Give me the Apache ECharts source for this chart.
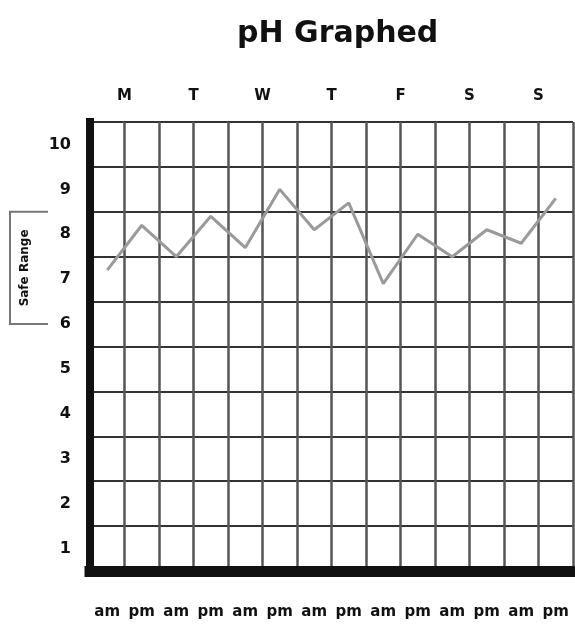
<!DOCTYPE html>
<html><head><meta charset="utf-8">
<script src="https://cdn.jsdelivr.net/npm/echarts@6/dist/echarts.min.js"></script>
<style>html,body{margin:0;padding:0;background:#fff}#c{width:575px;height:626px}</style>
</head><body><div id="c"></div>
<script>
const halfDays = ['am','pm','am','pm','am','pm','am','pm','am','pm','am','pm','am','pm'];
const days = ['M','T','W','T','F','S','S'];
const phLevels = ['1','2','3','4','5','6','7','8','9','10'];
const phValues = [7.2, 8.2, 7.5, 8.4, 7.7, 9.0, 8.1, 8.7, 6.9, 8.0, 7.5, 8.1, 7.8, 8.8];
const safeRange = [6, 8.5];
const titleText = 'pH Graphed';
const safeLabel = 'Safe Range';

const FONT = 'DejaVu Sans';
const chart = echarts.init(document.getElementById('c'), null, {renderer: 'canvas'});
chart.setOption({
  animation: false,
  backgroundColor: '#fff',
  title: {
    text: titleText, left: 232, top: 14,
    textStyle: {fontFamily: FONT, fontWeight: 'bold', fontSize: 30, color: '#111'}
  },
  grid: {left: 90, right: 2, top: 122, bottom: 55, containLabel: false},
  xAxis: [{
    type: 'category', data: halfDays, position: 'bottom', boundaryGap: true,
    axisLine: {show: true, lineStyle: {color: '#111', width: 11, cap: 'square'}},
    axisTick: {show: false},
    axisLabel: {margin: 34, fontFamily: FONT, fontWeight: 'bold', fontSize: 15, color: '#111', interval: 0},
    splitLine: {show: true, interval: 0, lineStyle: {color: '#555', width: 2.5}}
  }, {
    type: 'category', data: days, position: 'top', boundaryGap: true,
    axisLine: {show: false}, axisTick: {show: false},
    axisLabel: {margin: 18, fontFamily: FONT, fontWeight: 'bold', fontSize: 15, color: '#111', interval: 0},
    splitLine: {show: false}
  }],
  yAxis: [{
    type: 'category', data: phLevels, boundaryGap: true,
    axisLine: {show: true, lineStyle: {color: '#111', width: 8, cap: 'square'}},
    axisTick: {show: false},
    axisLabel: {margin: 19, fontFamily: FONT, fontWeight: 'bold', fontSize: 16, color: '#111', interval: 0},
    splitLine: {show: true, interval: 0, lineStyle: {color: '#333', width: 2}}
  }, {
    type: 'value', min: 0.5, max: 10.5, show: false,
    axisLine: {show: false}, axisLabel: {show: false}, splitLine: {show: false}, axisTick: {show: false}
  }],
  series: [{
    type: 'line', xAxisIndex: 0, yAxisIndex: 1, data: phValues,
    showSymbol: false, symbol: 'none', z: 5,
    lineStyle: {color: '#9a9a9a', width: 3}
  }]
});

const yTop = chart.convertToPixel({yAxisIndex: 1}, safeRange[1]);
const yBot = chart.convertToPixel({yAxisIndex: 1}, safeRange[0]);
chart.setOption({
  graphic: [{
    type: 'polyline', silent: true,
    shape: {points: [[48, yTop], [10, yTop], [10, yBot], [48, yBot]]},
    style: {stroke: '#777', lineWidth: 2, fill: null}
  }, {
    type: 'text', silent: true, x: 25, y: (yTop + yBot) / 2, rotation: Math.PI / 2,
    style: {text: safeLabel, fontFamily: FONT, fontWeight: 'bold', fontSize: 12, fill: '#111',
            align: 'center', verticalAlign: 'middle'}
  }]
});
</script></body></html>
